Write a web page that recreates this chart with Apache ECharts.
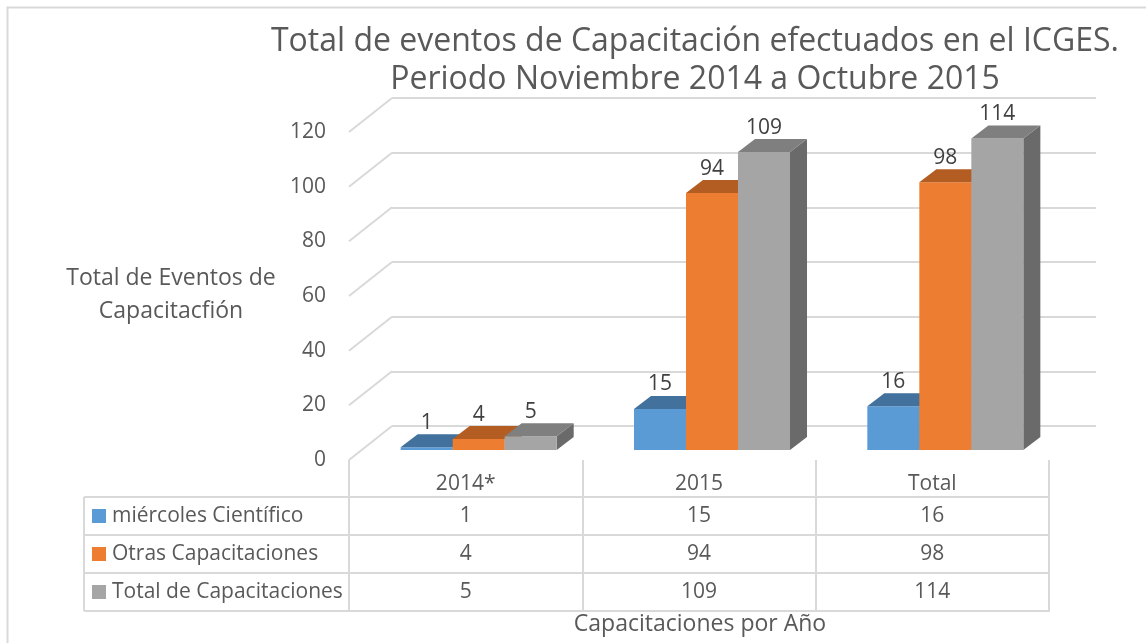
<!DOCTYPE html>
<html>
<head>
<meta charset="utf-8">
<script src="https://cdn.jsdelivr.net/npm/echarts@6/dist/echarts.min.js"></script>
<style>
  html, body { margin: 0; padding: 0; background: #fff; }
  #main { width: 1146px; height: 643px; }
</style>
</head>
<body>
<div id="main"></div>
<script>
    // datos
    var categories = ['2014*', '2015', 'Total'];
    var seriesNames = ['miércoles Científico', 'Otras Capacitaciones', 'Total de Capacitaciones'];
    var cientifico = [1, 15, 16];
    var otras = [4, 94, 98];
    var totalCap = [5, 109, 114];
    var yTicks = [0, 20, 40, 60, 80, 100, 120];

    var allSeries = [cientifico, otras, totalCap];
    // colores: frente, arriba, lado
    var colors = [
        ['#5b9bd5', '#41719c', '#3c6a93'],
        ['#ed7d31', '#b45d22', '#a8561f'],
        ['#a5a5a5', '#7f7f7f', '#6a6a6a']
    ];

    var font = '"Open Sans", "Noto Sans", sans-serif';
    var txt = '#595959';
    var lineCol = '#d9d9d9';

    // geometria
    var frontLeft = 349, frontTop = 132, plotW = 700, plotH = 328;
    var depthX = 43, depthY = 34;
    var tableLeft = 84, rowH = 38, firstRow = 497;

    let chartDom = document.getElementById('main');
    let myChart = echarts.init(chartDom);

    function barRender(s) {
        return function (params, api) {
            let c = api.coord([api.value(0), api.value(1)]);
            let base = api.coord([api.value(0), 0]);
            let band = api.size([1, 0])[0];
            let u = band / 233.3;
            let w = 52 * u, dx = 17 * u, dy = -13;
            let x0 = c[0] - 87 * u + s * w;
            let top = c[1], bot = base[1];
            let col = colors[s];
            return {
                type: 'group',
                children: [
                    {
                        type: 'polygon',
                        shape: { points: [[x0 + w, top], [x0 + w + dx, top + dy], [x0 + w + dx, bot + dy], [x0 + w, bot]] },
                        style: { fill: col[2] }
                    },
                    {
                        type: 'rect',
                        shape: { x: x0, y: top, width: w, height: bot - top },
                        style: { fill: col[0] }
                    },
                    {
                        type: 'polygon',
                        shape: { points: [[x0, top], [x0 + w, top], [x0 + w + dx, top + dy], [x0 + dx, top + dy]] },
                        style: { fill: col[1] }
                    },
                    {
                        type: 'text',
                        style: {
                            text: String(api.value(1)),
                            x: x0 + w / 2, y: top + dy - 1,
                            align: 'center', verticalAlign: 'bottom',
                            fill: '#404040', font: '21px ' + font
                        }
                    }
                ]
            };
        };
    }

    // tabla de datos
    let graphics = [];
    graphics.push({
        type: 'rect', left: 5, top: 5, silent: true,
        shape: { x: 0, y: 0, width: 1160, height: 660 },
        style: { fill: 'none', stroke: lineCol, lineWidth: 2 }
    });
    let colW = plotW / categories.length;
    for (let r = 0; r <= seriesNames.length; r++) {
        let y = firstRow + r * rowH;
        graphics.push({
            type: 'line', silent: true,
            shape: { x1: tableLeft, y1: y, x2: frontLeft + plotW, y2: y },
            style: { stroke: lineCol, lineWidth: 2 }
        });
    }
    graphics.push({
        type: 'line', silent: true,
        shape: { x1: tableLeft, y1: firstRow, x2: tableLeft, y2: firstRow + rowH * 3 },
        style: { stroke: lineCol, lineWidth: 2 }
    });
    for (let r = 0; r < seriesNames.length; r++) {
        let yc = firstRow + r * rowH + rowH / 2;
        graphics.push({
            type: 'rect', silent: true,
            shape: { x: 92, y: yc - 7, width: 14, height: 14 },
            style: { fill: colors[r][0] }
        });
        graphics.push({
            type: 'text', silent: true, x: 112, y: yc,
            style: { text: seriesNames[r], fill: txt, font: '21px ' + font, verticalAlign: 'middle' }
        });
        for (let c = 0; c < categories.length; c++) {
            graphics.push({
                type: 'text', silent: true, x: frontLeft + colW * (c + 0.5), y: yc,
                style: { text: String(allSeries[r][c]), fill: txt, font: '21px ' + font, align: 'center', verticalAlign: 'middle' }
            });
        }
    }
    graphics.push({
        type: 'text', silent: true, x: 171, y: 295,
        style: { text: 'Total de Eventos de\nCapacitacfión', fill: txt, font: '23px ' + font, align: 'center', verticalAlign: 'middle', lineHeight: 33 }
    });
    graphics.push({
        type: 'text', silent: true, x: 700, y: 624,
        style: { text: 'Capacitaciones por Año', fill: txt, font: '23px ' + font, align: 'center', verticalAlign: 'middle' }
    });

    let option = {
        backgroundColor: '#fff',
        animation: false,
        title: {
            text: 'Total de eventos de Capacitación efectuados en el ICGES.\nPeriodo Noviembre 2014 a Octubre 2015',
            left: 695, top: 23, padding: 0, textAlign: 'center',
            textStyle: { fontFamily: font, fontSize: 32, fontWeight: 'normal', color: txt, lineHeight: 38 }
        },
        grid: [
            { left: frontLeft, top: frontTop, width: plotW, height: plotH },
            { left: frontLeft + depthX, top: frontTop - depthY, width: plotW + 4, height: plotH },
            { left: frontLeft + 22, top: 122, width: plotW, height: plotH }
        ],
        xAxis: [
            {
                gridIndex: 0, type: 'category', data: categories,
                axisLine: { show: false },
                axisTick: { show: true, interval: 0, length: 152, lineStyle: { color: lineCol, width: 2 } },
                axisLabel: { color: txt, fontFamily: font, fontSize: 21, margin: 14 }
            },
            { gridIndex: 1, type: 'value', min: 0, max: 1, show: false },
            { gridIndex: 2, type: 'category', data: categories, show: false }
        ],
        yAxis: [
            {
                gridIndex: 0, type: 'value', min: 0, max: 120, interval: 20,
                axisLine: { show: false }, axisTick: { show: false }, splitLine: { show: false },
                axisLabel: { color: txt, fontFamily: font, fontSize: 21, margin: 23 }
            },
            {
                gridIndex: 1, type: 'value', min: 0, max: 120, interval: 20,
                axisLine: { show: false }, axisTick: { show: false }, axisLabel: { show: false },
                splitLine: { show: true, lineStyle: { color: lineCol, width: 2 } }
            },
            { gridIndex: 2, type: 'value', min: 0, max: 120, show: false }
        ],
        series: [
            {
                // lineas de la pared lateral
                type: 'custom', xAxisIndex: 1, yAxisIndex: 1, silent: true,
                data: yTicks.map(function (v) { return [0, v]; }),
                renderItem: function (params, api) {
                    let p = api.coord([0, api.value(1)]);
                    let children = [{
                        type: 'line',
                        shape: { x1: p[0], y1: p[1], x2: p[0] - depthX, y2: p[1] + depthY },
                        style: { stroke: lineCol, lineWidth: 2 }
                    }];
                    if (api.value(1) === 0) {
                        children.push({
                            type: 'line',
                            shape: { x1: p[0] - depthX, y1: p[1] + depthY, x2: p[0] - depthX, y2: p[1] + depthY + 10 },
                            style: { stroke: lineCol, lineWidth: 2 }
                        });
                    }
                    return { type: 'group', children: children };
                }
            }
        ].concat(allSeries.map(function (vals, s) {
            return {
                type: 'custom', name: seriesNames[s], xAxisIndex: 2, yAxisIndex: 2,
                clip: false, z: 3 + s,
                data: vals.map(function (v, i) { return [i, v]; }),
                renderItem: barRender(s)
            };
        })),
        graphic: graphics
    };

    option && myChart.setOption(option);
</script>
</body>
</html>
